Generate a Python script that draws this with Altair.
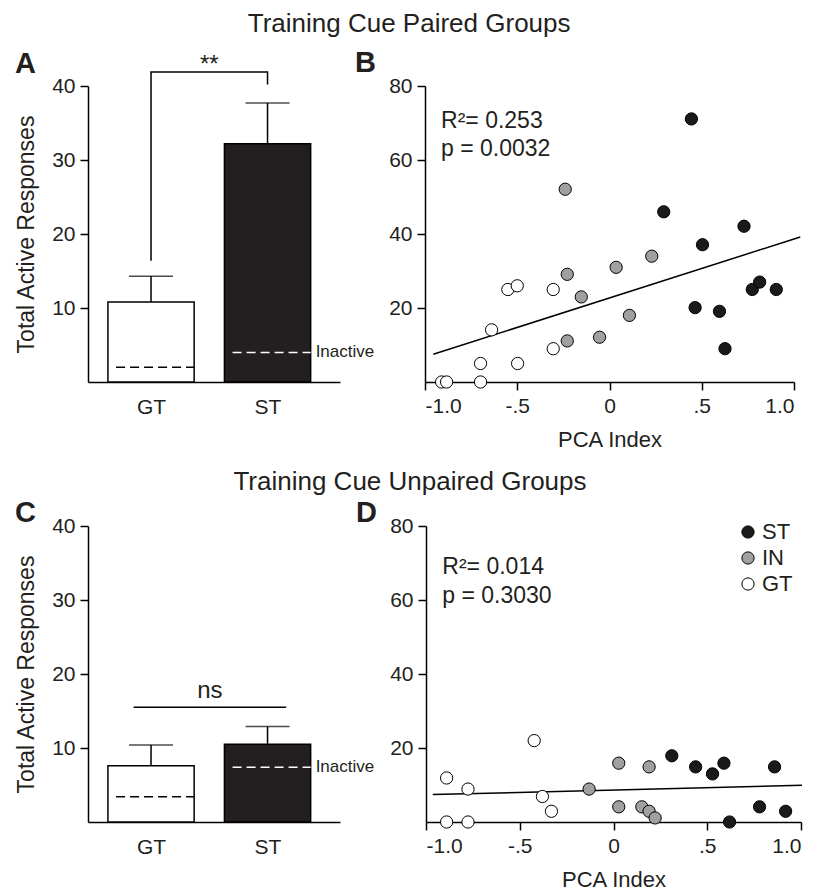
import json
import altair as alt
import pandas as pd

FONT = "Liberation Sans"
INK = "#231f20"

# ---------------- bar panels (A: paired, C: unpaired) ----------------
groups = ["GT", "ST"]
group_idx = [0, 1]
paired_active = [10.8, 32.2]
paired_sem_top = [14.3, 37.7]
paired_inactive = [2.0, 4.0]
unpaired_active = [7.6, 10.5]
unpaired_sem_top = [10.4, 12.9]
unpaired_inactive = [3.4, 7.4]
inactive_label = "Inactive"

paired_bracket_x = [0, 0, 1, 1]
paired_bracket_y = [16.4, 41.9, 41.9, 40.2]
paired_sig = "**"
unpaired_line_x = [-0.15, 1.16]
unpaired_line_y = [15.5, 15.5]
unpaired_sig = "ns"

bar_yticks = [10, 20, 30, 40]

# ---------------- scatter panels (B: paired, D: unpaired) ----------------
phenotypes = ["ST", "IN", "GT"]
b_st_x = [0.444, 0.294, 0.504, 0.729, 0.464, 0.596, 0.626, 0.774, 0.814, 0.904]
b_st_y = [71.1, 46.0, 37.1, 42.1, 20.1, 19.1, 9.0, 25.0, 27.0, 25.0]
b_in_x = [-0.240, -0.229, -0.153, 0.036, 0.229, 0.108, -0.054, -0.229]
b_in_y = [52.1, 29.1, 23.0, 31.0, 34.0, 18.0, 12.1, 11.1]
b_gt_x = [-0.551, -0.500, -0.305, -0.639, -0.699, -0.498, -0.305, -0.910, -0.883, -0.699]
b_gt_y = [25.0, 26.0, 25.0, 14.1, 5.0, 5.0, 9.0, 0, 0, 0]
b_fit_x = [-0.955, 1.034]
b_fit_y = [7.5, 39.2]
b_stats = ["R\u00b2= 0.253", "p = 0.0032"]
b_stats_y = [68.6, 61.0]

d_st_x = [0.311, 0.438, 0.528, 0.589, 0.859, 0.779, 0.918, 0.619]
d_st_y = [17.9, 14.9, 13.0, 15.9, 14.9, 4.1, 2.9, 0]
d_in_x = [0.028, 0.190, -0.130, 0.028, 0.151, 0.190, 0.222]
d_in_y = [15.9, 14.9, 8.9, 4.1, 4.1, 2.9, 1.1]
d_gt_x = [-0.423, -0.890, -0.776, -0.379, -0.331, -0.890, -0.776]
d_gt_y = [22.0, 11.9, 8.9, 6.9, 2.9, 0, 0]
d_fit_x = [-0.964, 1.005]
d_fit_y = [7.4, 9.9]
d_stats = ["R\u00b2= 0.014", "p = 0.3030"]
d_stats_y = [67.1, 59.3]

stats_x = -0.913
sc_xticks = [-1, -0.5, 0, 0.5, 1]
sc_xlabels = ["-1.0", "-.5", "0", ".5", "1.0"]
sc_yticks = [20, 40, 60, 80]

row_titles = ["Training Cue Paired Groups", "Training Cue Unpaired Groups"]

BAR_W, PLOT_H = 252, 296


def yaxis(values, title):
    kw = dict(values=values, tickSize=8, labelPadding=5, labelFontSize=21,
              grid=False, domainWidth=1.5, tickWidth=1.5)
    if title:
        kw.update(title=title, titleFontSize=23, titleFontWeight="normal", titlePadding=13)
    else:
        kw.update(title=None)
    return alt.Axis(**kw)


def letter_title(letter, dx, dy):
    return alt.TitleParams(letter, anchor="start", frame="group", fontSize=29,
                           fontWeight="bold", font=FONT, color=INK, dx=dx, dy=dy)


def bar_panel(active, sem_top, inactive, sig_x, sig_y, sig_text, sig_text_y, letter, ldy):
    df = pd.DataFrame({"idx": group_idx, "group": groups, "active": active,
                       "sem": sem_top, "inactive": inactive})
    base = alt.Chart(df).transform_calculate(
        lo="datum.idx - 0.37", hi="datum.idx + 0.37", dlo="datum.idx - 0.30")
    xs = alt.Scale(domain=[-0.541, 1.622], nice=False, zero=False)
    ys = alt.Scale(domain=[0, 40], nice=False)
    label_expr = f"{json.dumps(groups)}[datum.value]"
    xaxis = alt.Axis(values=group_idx, labelExpr=label_expr, ticks=False, labelPadding=14,
                     labelFontSize=21, grid=False, domainWidth=1.5, title=None)
    bars = base.mark_bar(stroke="black", strokeWidth=1.5).encode(
        x=alt.X("lo:Q", scale=xs, axis=xaxis),
        x2="hi:Q",
        y=alt.Y("active:Q", scale=ys, axis=yaxis(bar_yticks, "Total Active Responses")),
        y2=alt.datum(0),
        fill=alt.Fill("group:N", scale=alt.Scale(domain=groups, range=["white", "#231f20"]),
                      legend=None),
    )
    err = base.mark_rule(color="black", strokeWidth=1.5).encode(
        x="idx:Q", y="active:Q", y2="sem:Q")
    cap = base.mark_tick(orient="horizontal", size=44, thickness=1.5, color="black").encode(
        x="idx:Q", y="sem:Q")
    dash = base.mark_rule(strokeDash=[9, 5], strokeWidth=1.5).encode(
        x="dlo:Q", x2="hi:Q", y="inactive:Q",
        stroke=alt.Stroke("group:N", scale=alt.Scale(domain=groups, range=["black", "white"]),
                          legend=None),
    )
    inact = base.transform_filter("datum.idx == 1").mark_text(
        align="left", baseline="middle", dx=5, fontSize=17, font=FONT, color=INK).encode(
        x="hi:Q", y="inactive:Q", text=alt.value(inactive_label))
    sdf = pd.DataFrame({"x": sig_x, "y": sig_y, "o": list(range(len(sig_x)))})
    sig_line = alt.Chart(sdf).mark_line(color="black", strokeWidth=1.5).encode(
        x="x:Q", y="y:Q", order="o:Q")
    tdf = pd.DataFrame({"x": [(min(sig_x) + max(sig_x)) / 2], "y": [sig_text_y], "t": [sig_text]})
    sig_txt = alt.Chart(tdf).mark_text(baseline="alphabetic", fontSize=24, font=FONT, color=INK).encode(
        x="x:Q", y="y:Q", text="t:N")
    return alt.layer(bars, err, cap, dash, inact, sig_line, sig_txt).properties(
        width=BAR_W, height=PLOT_H, title=letter_title(letter, -73, ldy))


def scatter_panel(st, inn, gt, fit_x, fit_y, stats, stats_y, width, letter, ldy, legend):
    rows = []
    for ph, (xs_, ys_) in zip(phenotypes, [st, inn, gt]):
        for a, b in zip(xs_, ys_):
            rows.append({"pca": a, "resp": b, "phen": ph})
    df = pd.DataFrame(rows)
    xs = alt.Scale(domain=[-1, 1], nice=False, zero=False)
    ys = alt.Scale(domain=[0, 80], nice=False)
    label_expr = f"{json.dumps(sc_xlabels)}[indexof({json.dumps(sc_xticks)}, datum.value)]"
    xaxis = alt.Axis(values=sc_xticks, labelExpr=label_expr, tickSize=8, labelPadding=5,
                     labelFontSize=21, grid=False, domainWidth=1.5, tickWidth=1.5,
                     title="PCA Index", titleFontSize=22, titleFontWeight="normal", titlePadding=13)
    if legend:
        leg = alt.Legend(title=None, orient="none", legendX=311, legendY=-5, padding=0,
                         labelFontSize=22, labelFont=FONT, labelColor=INK, symbolSize=150,
                         symbolType="circle", symbolStrokeColor="black", symbolStrokeWidth=1,
                         labelOffset=3, rowPadding=4)
    else:
        leg = None
    fit = alt.Chart(pd.DataFrame({"x": fit_x, "y": fit_y})).mark_line(
        color="black", strokeWidth=1.5).encode(
        x=alt.X("x:Q", scale=xs, axis=xaxis), y=alt.Y("y:Q", scale=ys, axis=yaxis(sc_yticks, None)))
    pts = alt.Chart(df).mark_point(shape="circle", filled=True, size=150, stroke="black",
                                   strokeWidth=1, opacity=1).encode(
        x=alt.X("pca:Q", scale=xs, axis=xaxis),
        y=alt.Y("resp:Q", scale=ys, axis=yaxis(sc_yticks, None)),
        fill=alt.Fill("phen:N", scale=alt.Scale(domain=phenotypes,
                                                range=["#1a1a1a", "#a0a0a0", "white"]),
                      legend=leg),
    )
    sdf = pd.DataFrame({"x": [stats_x] * len(stats), "y": stats_y, "t": stats})
    st_txt = alt.Chart(sdf).mark_text(align="left", baseline="alphabetic", fontSize=23,
                                      font=FONT, color=INK).encode(x="x:Q", y="y:Q", text="t:N")
    return alt.layer(fit, pts, st_txt).properties(
        width=width, height=PLOT_H, title=letter_title(letter, -70, ldy))


A = bar_panel(paired_active, paired_sem_top, paired_inactive, paired_bracket_x,
              paired_bracket_y, paired_sig, 41.9, "A", 30)
B = scatter_panel((b_st_x, b_st_y), (b_in_x, b_in_y), (b_gt_x, b_gt_y), b_fit_x, b_fit_y,
                  b_stats, b_stats_y, 369, "B", 7, False)
C = bar_panel(unpaired_active, unpaired_sem_top, unpaired_inactive, unpaired_line_x,
              unpaired_line_y, unpaired_sig, 16.7, "C", 17)
D = scatter_panel((d_st_x, d_st_y), (d_in_x, d_in_y), (d_gt_x, d_gt_y), d_fit_x, d_fit_y,
                  d_stats, d_stats_y, 375, "D", 17, True)


def row_title(t, dy):
    return alt.TitleParams(t, anchor="middle", fontSize=26, fontWeight="normal", font=FONT,
                           color=INK, dy=dy)


row1 = alt.hconcat(A, B, spacing=85, bounds="flush",
                   title=row_title(row_titles[0], -8)).resolve_scale(fill="independent", stroke="independent")
row2 = alt.hconcat(C, D, spacing=86, bounds="flush",
                   title=row_title(row_titles[1], 0)).resolve_scale(fill="independent", stroke="independent")

chart = alt.vconcat(row1, row2, spacing=440, bounds="flush").resolve_scale(
    fill="independent", stroke="independent"
).properties(
    padding={"left": 7, "top": 3, "right": 0, "bottom": 0}
).configure(font=FONT).configure_view(stroke=None).configure_axis(
    domainColor="black", tickColor="black", labelColor=INK, titleColor=INK,
    labelFont=FONT, titleFont=FONT
).configure_title(color=INK)

chart.save("out.html", embed_options={"renderer": "svg", "actions": False})
